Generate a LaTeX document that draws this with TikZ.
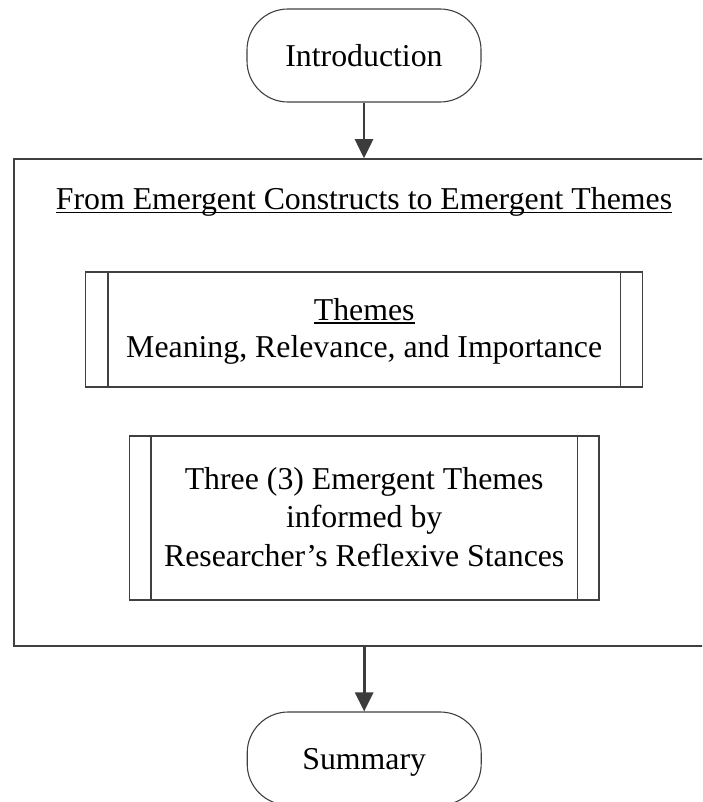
\documentclass[tikz,border=0pt]{standalone}
\usepackage{fontspec}
\setmainfont{Liberation Serif}
\usetikzlibrary{arrows.meta}

\definecolor{edge}{HTML}{404040}
\definecolor{arrowc}{HTML}{3C3C3C}

% underline that sits just below the baseline, crossing descenders
\newsavebox\ulinebox
\newcommand\ulined[1]{\sbox\ulinebox{#1}\rlap{\rule[-3.4pt]{\wd\ulinebox}{1.8pt}}\usebox\ulinebox}

\tikzset{
  label font/.style={font=\fontsize{31.8}{38.5}\selectfont, text=black, inner sep=0pt},
  terminal/.style={draw=edge, line width=1.1pt, rectangle, rounded corners=41pt,
    minimum width=234pt, minimum height=93pt, label font, text height=21.6pt, text depth=0pt},
  frame/.style={draw=edge, line width=1.5pt, rectangle, inner sep=0pt},
  procbox/.style={draw=edge, line width=1.5pt, rectangle, inner sep=0pt},
  flow/.style={draw=arrowc, line width=2.6pt, -{Triangle[width=18pt,length=19pt]}},
  txt/.style={label font, anchor=base},
}

\begin{document}
\begin{tikzpicture}[x=1pt, y=-1pt]
\useasboundingbox (0,0) rectangle (702,802);
\clip (0,0) rectangle (702,802);

% start and end terminals
\node[terminal] (intro) at (364,55.5) {Introduction};
\node[terminal] (summary) at (364.2,758.5) {Summary};

% outer group frame (runs past the right edge)
\node[frame, minimum width=706pt, minimum height=487pt] (group) at (367,402.5) {};
\node[txt] (title) at (364,210) {\ulined{From Emergent Constructs to Emergent Themes}};

% first predefined process
\node[procbox, minimum width=557pt, minimum height=115pt] (themes) at (364.2,329.5) {};
\draw[edge, line width=1.5pt] ([xshift=23pt]themes.north west) -- ([xshift=23pt]themes.south west);
\draw[edge, line width=1.5pt] ([xshift=-23pt]themes.north east) -- ([xshift=-23pt]themes.south east);
\node[txt] (themesA) at (364.2,320.5) {\ulined{Themes}};
\node[txt] (themesB) at (364.2,357.5) {Meaning, Relevance, and Importance};

% second predefined process
\node[procbox, minimum width=469.6pt, minimum height=164pt] (emergent) at (364.2,518) {};
\draw[edge, line width=1.5pt] ([xshift=22.3pt]emergent.north west) -- ([xshift=22.3pt]emergent.south west);
\draw[edge, line width=1.5pt] ([xshift=-22.3pt]emergent.north east) -- ([xshift=-22.3pt]emergent.south east);
\node[txt] (emA) at (364.2,489) {Three (3) Emergent Themes};
\node[txt] (emB) at (364.2,527.5) {informed by};
\node[txt] (emC) at (364.2,566) {Researcher’s Reflexive Stances};

% connectors
\draw[flow] (intro.south) -- (intro.south |- group.north);
\draw[flow] (summary.north |- group.south) -- (summary.north);
\end{tikzpicture}
\end{document}
